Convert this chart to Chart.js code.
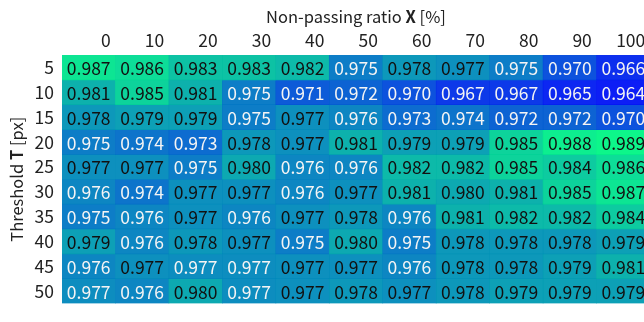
<!DOCTYPE html>
<html>
<head>
  <title>Non-passing ratio heatmap</title>
  <script src="https://cdn.jsdelivr.net/npm/chart.js"></script>
  <style>
    html, body { margin:0; padding:0; background:#fff; overflow:hidden; }
  </style>
</head>
<body>
  <canvas id="heat" width="650" height="322"></canvas>
  <script>
    // columns: non-passing ratio X [%], rows: threshold T [px]
    const ratios = [0, 10, 20, 30, 40, 50, 60, 70, 80, 90, 100];
    const thresholds = [5, 10, 15, 20, 25, 30, 35, 40, 45, 50];

    // 0.9768 / 0.9772 -> cells printed as 0.977 that sit just under / over the text colour switch
    const t5  = [0.987, 0.986, 0.983, 0.983, 0.982, 0.975, 0.978, 0.9772, 0.975, 0.970, 0.966];
    const t10 = [0.981, 0.985, 0.981, 0.975, 0.971, 0.972, 0.970, 0.967, 0.967, 0.965, 0.964];
    const t15 = [0.978, 0.979, 0.979, 0.975, 0.9772, 0.976, 0.973, 0.974, 0.972, 0.972, 0.970];
    const t20 = [0.975, 0.974, 0.973, 0.978, 0.9772, 0.981, 0.979, 0.979, 0.985, 0.988, 0.989];
    const t25 = [0.9772, 0.9772, 0.975, 0.980, 0.976, 0.976, 0.982, 0.982, 0.985, 0.984, 0.986];
    const t30 = [0.976, 0.974, 0.9772, 0.9772, 0.976, 0.9772, 0.981, 0.980, 0.981, 0.985, 0.987];
    const t35 = [0.975, 0.976, 0.9772, 0.976, 0.9772, 0.978, 0.976, 0.981, 0.982, 0.982, 0.984];
    const t40 = [0.979, 0.976, 0.978, 0.9772, 0.975, 0.980, 0.975, 0.978, 0.978, 0.978, 0.979];
    const t45 = [0.976, 0.9772, 0.9768, 0.9768, 0.9772, 0.9772, 0.976, 0.978, 0.978, 0.979, 0.981];
    const t50 = [0.9768, 0.976, 0.980, 0.9768, 0.9772, 0.978, 0.9772, 0.978, 0.979, 0.979, 0.979];
    const values = [t5, t10, t15, t20, t25, t30, t35, t40, t45, t50];

    const FONT = "'Noto Sans CJK JP', 'Noto Sans', sans-serif";
    const vmin = 0.962, vmax = 0.990, textSwitch = 0.977;

    // winter colormap: blue -> green
    function winter(v) {
      let t = (v - vmin) / (vmax - vmin);
      t = Math.max(0, Math.min(1, t));
      return 'rgba(0,' + Math.round(255 * t) + ',' + Math.round(255 * (1 - 0.5 * t)) + ',0.95)';
    }

    const datasets = thresholds.map((T, i) => ({
      label: 'T=' + T,
      data: values[i].map(() => [T - 2.5, T + 2.5]),
      backgroundColor: values[i].map(winter),
      borderWidth: 0,
      barPercentage: 1,
      categoryPercentage: 1,
      grouped: false
    }));

    function richText(ctx, parts, cx, cy, size) {
      let w = 0;
      parts.forEach(p => { ctx.font = (p[1] ? 'bold ' : '') + size + 'px ' + FONT; w += ctx.measureText(p[0]).width; });
      let x = cx - w / 2;
      ctx.textAlign = 'left';
      ctx.textBaseline = 'middle';
      parts.forEach(p => {
        ctx.font = (p[1] ? 'bold ' : '') + size + 'px ' + FONT;
        ctx.fillText(p[0], x, cy);
        x += ctx.measureText(p[0]).width;
      });
    }

    const cellText = {
      id: 'cellText',
      afterDatasetsDraw(chart) {
        const { ctx, chartArea, scales: { x, y } } = chart;
        ctx.save();
        ctx.font = '17.5px ' + FONT;
        ctx.textAlign = 'center';
        ctx.textBaseline = 'middle';
        thresholds.forEach((T, i) => {
          ratios.forEach((r, j) => {
            const v = values[i][j];
            ctx.fillStyle = v >= textSwitch ? '#111' : '#f4f4f4';
            ctx.fillText(v.toFixed(3), x.getPixelForValue(j), y.getPixelForValue(T) + 1);
          });
        });
        ctx.fillStyle = '#222';
        richText(ctx, [['Non-passing ratio ', false], ['X', true], [' [%]', false]],
                 (chartArea.left + chartArea.right) / 2, 17, 16.5);
        ctx.save();
        ctx.translate(17, (chartArea.top + chartArea.bottom) / 2);
        ctx.rotate(-Math.PI / 2);
        richText(ctx, [['Threshold ', false], ['T', true], [' [px]', false]], 0, 0, 16.5);
        ctx.restore();
        ctx.restore();
      }
    };

    new Chart(document.getElementById('heat').getContext('2d'), {
      type: 'bar',
      data: { labels: ratios.map(String), datasets: datasets },
      options: {
        responsive: false,
        animation: false,
        layout: { padding: 0 },
        plugins: { legend: { display: false }, tooltip: { enabled: false } },
        scales: {
          x: {
            type: 'category',
            position: 'top',
            grid: { display: false, drawTicks: false },
            border: { display: false },
            ticks: { color: '#222', font: { family: FONT, size: 17.5 }, align: 'end', labelOffset: 22, padding: 4 },
            afterFit: s => { s.height = 55; }
          },
          y: {
            type: 'linear',
            reverse: true,
            min: 2.5,
            max: 52.5,
            afterBuildTicks: s => { s.ticks = thresholds.map(v => ({ value: v })); },
            grid: { display: false, drawTicks: false },
            border: { display: false },
            ticks: { color: '#222', font: { family: FONT, size: 17.5 }, padding: 8 },
            afterFit: s => { s.width = 62; }
          }
        }
      },
      plugins: [cellText]
    });
  </script>
</body>
</html>
